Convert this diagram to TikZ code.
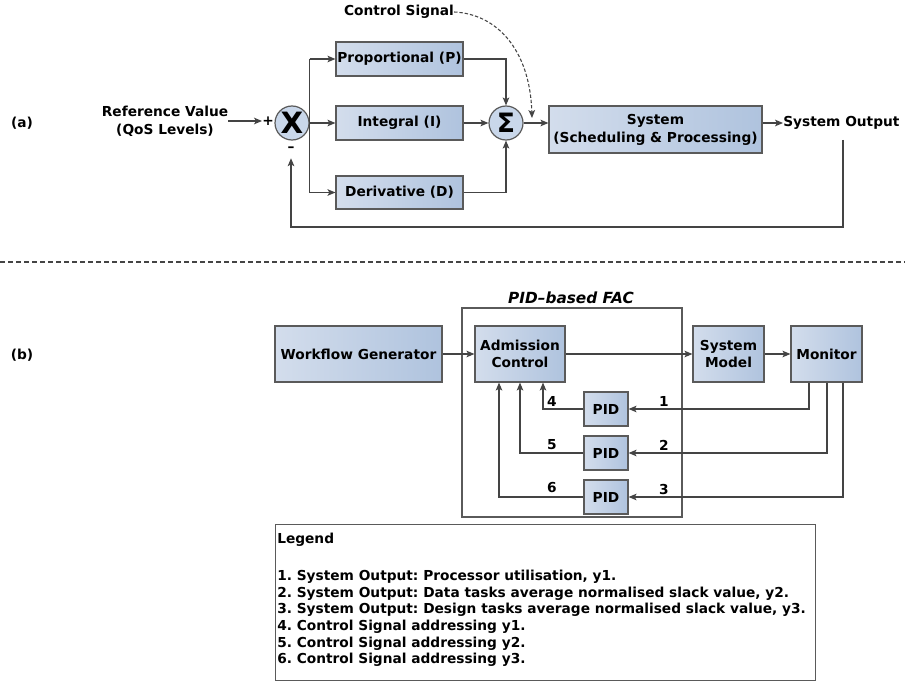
\documentclass[tikz,border=0pt]{standalone}
\usepackage{fontspec}
\setmainfont{DejaVu Sans}
\usetikzlibrary{arrows.meta,calc}
\definecolor{lineg}{HTML}{444444}
\definecolor{boxline}{HTML}{5A5A5A}
\definecolor{boxL}{HTML}{D3DDEC}
\definecolor{boxM}{HTML}{E9EEF6}
\definecolor{boxR}{HTML}{AFC3DE}
\definecolor{circfill}{HTML}{C9D7EA}
\begin{document}
\frenchspacing
\begin{tikzpicture}[x=0.75pt,y=-0.75pt,
  font=\bfseries\fontsize{10.3}{13.5}\selectfont,
  blk/.style={draw=boxline, line width=0.9pt, left color=boxL, middle color=boxM,
              right color=boxR, inner sep=0pt, align=center},
  circ/.style={circle, draw=boxline, line width=0.9pt, fill=circfill, inner sep=0pt,
               minimum size=34*0.75pt},
  txt/.style={inner sep=0pt, align=center},
  conn/.style={draw=lineg, line width=0.8pt},
  arr/.style={conn, -{Stealth[length=6pt,width=5pt,inset=1.5pt]}},
  plain/.style={draw=lineg, line width=0.8pt},
  legtxt/.style={txt, anchor=west, font=\bfseries\fontsize{10.3}{12}\selectfont}]
\useasboundingbox (0,0) rectangle (905,681);

% ---------------- (a) classic PID loop ----------------
\node[txt] (la) at (22,123) {(a)};
\node[txt] (ref) at (165,121) {Reference Value\\(QoS Levels)};
\node[txt] (plus) at (268,121) {+};
\node[circ] (mult) at (292,123) {\fontsize{22}{22}\selectfont X};
\node[txt] (minus) at (291,149) {–};

\node[blk, minimum width=127*0.75pt, minimum height=34*0.75pt] (P) at (399.5,59) {Proportional (P)};
\node[blk, minimum width=127*0.75pt, minimum height=34*0.75pt] (I) at (399.5,123) {Integral (I)};
\node[blk, minimum width=127*0.75pt, minimum height=33*0.75pt] (D) at (399.5,192.5) {Derivative (D)};

\node[circ] (sum) at (506,123) {\fontsize{20}{20}\selectfont Σ};
\node[blk, minimum width=213*0.75pt, minimum height=47*0.75pt] (sys) at (655.5,129.5)
  {System\\(Scheduling \& Processing)};
\node[txt, anchor=west] (sysout) at (783,123) {System Output};
\node[txt] (cs) at (399,12) {Control Signal};

\coordinate (cstip) at (532,118);
\coordinate (fbtop) at (843,140);
\coordinate (fbbot) at (843,227);

\draw[arr] (ref.east) -- (plus.west);
\draw[plain] (mult.east |- P.west) -- (mult.east |- D.west);
\draw[arr] (mult.east |- P.west) -- (P.west);
\draw[arr] (mult.east) -- (I.west);
\draw[arr] (mult.east |- D.west) -- (D.west);
\draw[arr] (P.east) -| (sum.north);
\draw[arr] (I.east) -- (sum.west);
\draw[arr] (D.east) -| (sum.south);
\draw[arr] (sum.east) -- (sum.east -| sys.west);
\draw[arr] (sys.east |- sysout.west) -- (sysout.west);
\draw[arr] (fbtop) -- (fbbot) -| ([yshift=-5pt]minus.south);
\draw[conn, dash pattern=on 2.5pt off 1.5pt, -{Stealth[length=6pt,width=5pt,inset=1.5pt]}]
  (cs.east) .. controls (497,14) and (530,50) .. (cstip);

% separator
\draw[draw=lineg, line width=0.8pt, dash pattern=on 3.5pt off 2.5pt] (0,262) -- (905,262);

% ---------------- (b) PID-based FAC ----------------
\node[txt] (lb) at (22,355) {(b)};
\node[draw=boxline, line width=0.8pt, minimum width=220*0.75pt, minimum height=209*0.75pt,
      inner sep=0pt] (fac) at (572,412.5) {};
\node[txt, font=\bfseries\itshape\fontsize{11.5}{13}\selectfont] (factitle) at (571,298) {PID–based FAC};

\node[blk, minimum width=167*0.75pt, minimum height=56*0.75pt] (wg) at (358.5,354) {Workflow Generator};
\node[blk, minimum width=90*0.75pt, minimum height=56*0.75pt, font=\bfseries\fontsize{10.3}{12.3}\selectfont]
  (ac) at (520,354) {Admission\\Control};
\node[blk, minimum width=71*0.75pt, minimum height=56*0.75pt, font=\bfseries\fontsize{10.3}{12.5}\selectfont]
  (sm) at (728.5,354) {System\\Model};
\node[blk, minimum width=71*0.75pt, minimum height=56*0.75pt] (mon) at (826.5,354) {Monitor};

\node[blk, minimum width=44*0.75pt, minimum height=34*0.75pt] (pid1) at (606,409) {PID};
\node[blk, minimum width=44*0.75pt, minimum height=34*0.75pt] (pid2) at (606,453) {PID};
\node[blk, minimum width=44*0.75pt, minimum height=34*0.75pt] (pid3) at (606,497) {PID};

\draw[arr] (wg.east) -- (ac.west);
\draw[arr] (ac.east) -- (sm.west);
\draw[arr] (sm.east) -- (mon.west);

\draw[arr] ($(mon.south)+(-17.5,0)$) |- (pid1.east);
\draw[arr] ($(mon.south)+(0.5,0)$) |- (pid2.east);
\draw[arr] ($(mon.south)+(16.5,0)$) |- (pid3.east);

\draw[arr] (pid1.west) -| ($(ac.south)+(23,0)$);
\draw[arr] (pid2.west) -| (ac.south);
\draw[arr] (pid3.west) -| ($(ac.south)+(-21,0)$);

\node[txt] (n1) at (664,401) {1};
\node[txt] (n2) at (664,445) {2};
\node[txt] (n3) at (664,489) {3};
\node[txt] (n4) at (552,401) {4};
\node[txt] (n5) at (552,445) {5};
\node[txt] (n6) at (552,488) {6};

% legend
\node[draw=boxline, line width=0.8pt, minimum width=540*0.75pt, minimum height=156*0.75pt,
      inner sep=0pt, anchor=north west] (legend) at (275,524) {};
\node[legtxt] (leghead) at (277,540) {Legend};
\foreach \t [count=\i] in {
  {1. System Output: Processor utilisation, y1.},
  {2. System Output: Data tasks average normalised slack value, y2.},
  {3. System Output: Design tasks average normalised slack value, y3.},
  {4. Control Signal addressing y1.},
  {5. Control Signal addressing y2.},
  {6. Control Signal addressing y3.}}
  \node[legtxt] (leg\i) at (277,{577+(\i-1)*16.6}) {\t};
\end{tikzpicture}
\end{document}
